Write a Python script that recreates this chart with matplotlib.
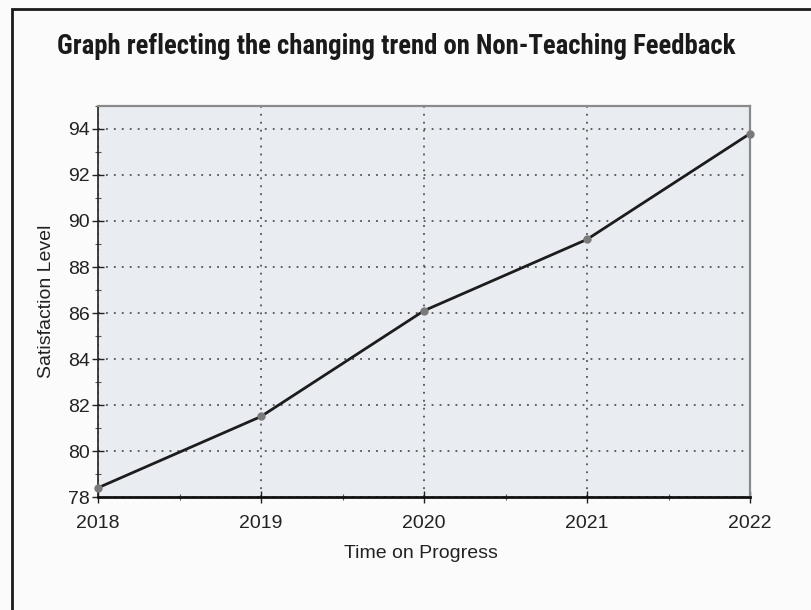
import matplotlib
matplotlib.use("Agg")
import matplotlib.pyplot as plt
from matplotlib.patches import Rectangle
from matplotlib.ticker import MultipleLocator
from matplotlib import font_manager

years = [2018, 2019, 2020, 2021, 2022]
satisfaction = [78.4, 81.5, 86.1, 89.2, 93.8]
y_ticks = [78, 80, 82, 84, 86, 88, 90, 92, 94]
title_text = "Graph reflecting the changing trend on Non-Teaching Feedback"
x_label = "Time on Progress"
y_label = "Satisfaction Level"

available = {f.name for f in font_manager.fontManager.ttflist}
cond_candidates = ["Roboto Condensed", "Open Sans Condensed", "Liberation Sans Narrow",
                   "DejaVu Sans Condensed", "Noto Sans Condensed", "Roboto"]
title_font = next((c for c in cond_candidates if c in available), "DejaVu Sans")

W, H = 811, 610
fig = plt.figure(figsize=(W / 100, H / 100), dpi=100)
fig.patch.set_facecolor("#fbfbfb")

# outer frame
fig.patches.append(Rectangle((12 / W, -0.02), 1.1, 1 - 9 / H + 0.02,
                             transform=fig.transFigure, fill=False,
                             edgecolor="#1a1a1a", linewidth=2.0))

ax = fig.add_axes([98 / W, 1 - 497 / H, (750 - 98) / W, (497 - 106) / H])
ax.set_facecolor("#e9ecf1")

ax.plot(years, satisfaction, color="#1c1c1c", linewidth=2.0, zorder=3,
        marker="o", markersize=5, markerfacecolor="#7a7a7a",
        markeredgecolor="#7a7a7a", clip_on=False)

ax.set_xlim(2018, 2022)
ax.set_ylim(78, 95)
ax.set_xticks(years)
ax.set_xticklabels([str(y) for y in years])
ax.set_yticks(y_ticks)
ax.xaxis.set_minor_locator(MultipleLocator(0.5))
ax.yaxis.set_minor_locator(MultipleLocator(1))

ax.grid(True, which="major", linestyle=(0, (1.2, 4)), color="#3a3a3a", linewidth=1.1)

ax.tick_params(axis="both", which="major", labelsize=14, colors="#222222",
               length=8, direction="inout", width=1.0)
ax.tick_params(axis="both", which="minor", length=5, direction="inout",
               width=0.8, colors="#555555")
ax.tick_params(axis="x", which="major", pad=9)
ax.tick_params(axis="y", which="major", pad=2)
for lbl in ax.get_xticklabels() + ax.get_yticklabels():
    lbl.set_fontfamily("Liberation Sans")

for side in ["top", "right"]:
    ax.spines[side].set_color("#8a8a8a")
    ax.spines[side].set_linewidth(1.6)
ax.spines["left"].set_color("#222222")
ax.spines["left"].set_linewidth(1.2)
ax.spines["bottom"].set_color("#111111")
ax.spines["bottom"].set_linewidth(2.0)

fig.text(421 / W, 1 - 553 / H, x_label, ha="center", va="center",
         fontsize=14, family="Liberation Sans", color="#222222")
fig.text(47 / W, 1 - 301 / H, y_label, ha="center", va="center",
         rotation=90, fontsize=14, family="Liberation Sans", color="#222222")

t = fig.text(57 / W, 1 - 46 / H, title_text, ha="left", va="center",
             fontsize=16, family=[title_font, "DejaVu Sans"], weight="heavy",
             stretch="condensed", color="#1a1a1a")
fig.canvas.draw()
r = fig.canvas.get_renderer()
w = t.get_window_extent(r).width
t.set_fontsize(16 * 681 / w)

fig.savefig("out.png", dpi=100, facecolor=fig.get_facecolor())
